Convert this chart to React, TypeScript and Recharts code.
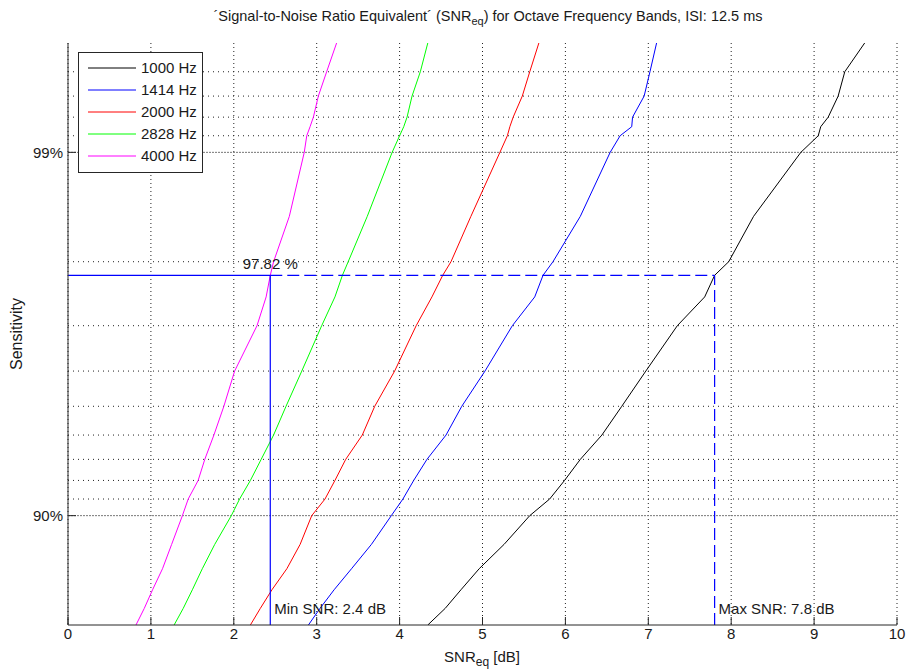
import React from "react";
import { LineChart, Line, XAxis, YAxis, CartesianGrid, ReferenceLine } from "recharts";

// sensitivity levels (%) where each curve was read
const sensitivity = [80, 82, 84, 86, 88, 90, 91, 92, 93, 94, 95, 96, 97, 97.5, 97.82, 98, 98.5, 99, 99.1, 99.15, 99.2, 99.3, 99.4, 99.5];

// SNR_eq [dB] of each band at those levels
const snr1000 = [4.34, 4.55, 4.74, 4.96, 5.26, 5.57, 5.81, 5.99, 6.18, 6.44, 6.68, 6.97, 7.35, 7.68, 7.8, 7.97, 8.27, 8.84, 9.05, 9.08, 9.17, 9.29, 9.37, 9.61];
const snr1414 = [2.9, 3.04, 3.21, 3.42, 3.66, 3.9, 4.04, 4.17, 4.33, 4.56, 4.75, 5.03, 5.36, 5.63, 5.73, 5.85, 6.18, 6.54, 6.66, 6.8, 6.81, 6.95, 7.02, 7.1];
const snr2000 = [2.2, 2.32, 2.46, 2.64, 2.8, 2.94, 3.1, 3.22, 3.35, 3.55, 3.7, 3.94, 4.2, 4.39, 4.52, 4.62, 4.86, 5.21, 5.3, 5.33, 5.37, 5.48, 5.57, 5.68];
const snr2828 = [1.28, 1.39, 1.5, 1.62, 1.77, 1.97, 2.07, 2.2, 2.33, 2.48, 2.63, 2.82, 3.06, 3.22, 3.31, 3.38, 3.61, 3.91, 4.0, 4.05, 4.09, 4.15, 4.25, 4.34];
const snr4000 = [0.82, 0.92, 1.02, 1.14, 1.25, 1.38, 1.45, 1.57, 1.65, 1.76, 1.88, 2.01, 2.28, 2.39, 2.44, 2.48, 2.67, 2.85, 2.88, 2.92, 2.96, 3.02, 3.12, 3.24];

const bandNames = ["1000 Hz", "1414 Hz", "2000 Hz", "2828 Hz", "4000 Hz"];
const bandColors = ["#000000", "#0000ff", "#ff0000", "#00ff00", "#ff00ff"];
const bandValues = [snr1000, snr1414, snr2000, snr2828, snr4000];

const xTicks = [0, 1, 2, 3, 4, 5, 6, 7, 8, 9, 10];
const yMin = 80;
const yMax = 99.5;
const majorLevels = [90, 99];
const minorLevels = [91, 92, 93, 94, 95, 96, 97, 98, 99.1, 99.2, 99.3, 99.4];

const target = 97.82;
const minSnr = 2.44;
const maxSnr = 7.8;

// probability axis: distance in decades from 100 %
const toZ = (p: number) => -Math.log10(1 - p / 100);

const series = bandNames.map((name, i) => ({
  name,
  color: bandColors[i],
  data: sensitivity.map((p, j) => ({ snr: bandValues[i][j], z: toZ(p) })),
}));

const FONT = "'Liberation Sans', Arial, Helvetica, sans-serif";
const TXT = "#1a1a1a";
const AXIS = "#262626";

const textLabel = (text: string, where: "bottomLeft" | "topEnd") => (props: any) => {
  const vb = props.viewBox || {};
  if (where === "bottomLeft") {
    return (
      <text x={vb.x + 4} y={vb.y + vb.height - 11} fontSize={15} fill={TXT} fontFamily={FONT}>
        {text}
      </text>
    );
  }
  return (
    <text x={vb.x + vb.width} y={vb.y - 6} fontSize={15} fill={TXT} textAnchor="middle" fontFamily={FONT}>
      {text}
    </text>
  );
};

function LegendBox() {
  return (
    <div
      style={{
        position: "absolute", left: 78, top: 52, width: 123, height: 115,
        border: `1px solid ${AXIS}`, background: "#fff", paddingTop: 4, boxSizing: "content-box",
      }}
    >
      {series.map((s) => (
        <div key={s.name} style={{ display: "flex", alignItems: "center", height: 22 }}>
          <svg width={62} height={22}>
            <line x1={9} x2={57} y1={11} y2={11} stroke={s.color} strokeWidth={1} />
          </svg>
          <span style={{ fontSize: 15, color: TXT, lineHeight: "22px" }}>{s.name}</span>
        </div>
      ))}
    </div>
  );
}

export default function App() {
  const zMin = toZ(yMin);
  const zMax = toZ(yMax);
  const zT = toZ(target);
  return (
    <div style={{ position: "absolute", left: 0, top: 0, width: 907, height: 670, background: "#fff", fontFamily: FONT }}>
      <div
        style={{
          position: "absolute", left: 488, top: 8, transform: "translateX(-50%)",
          whiteSpace: "nowrap", fontSize: 14.5, color: TXT,
        }}
      >
        ´Signal-to-Noise Ratio Equivalent´ (SNR<sub style={{ fontSize: 11 }}>eq</sub>) for Octave Frequency Bands, ISI: 12.5 ms
      </div>

      <LineChart width={907} height={670} margin={{ top: 43, right: 10, bottom: 15, left: 28 }}>
        <CartesianGrid horizontal={false} stroke="#222" strokeDasharray="1 3" xAxisId="bottom" />
        <XAxis
          xAxisId="bottom" type="number" dataKey="snr" domain={[0, 10]} ticks={xTicks} allowDataOverflow
          height={30} tickSize={-8} tickMargin={11} stroke={AXIS}
          tick={{ fontSize: 15, fill: TXT }}
        />
        <XAxis
          xAxisId="top" orientation="top" type="number" dataKey="snr" domain={[0, 10]} ticks={xTicks}
          allowDataOverflow height={0} tickSize={-8} stroke={AXIS} tickFormatter={() => ""}
        />
        <YAxis
          yAxisId="left" type="number" dataKey="z" domain={[zMin, zMax]} allowDataOverflow
          ticks={majorLevels.map(toZ)} tickFormatter={(v: number) => `${Math.round(100 - 100 * Math.pow(10, -v))}%`}
          width={40} tickSize={-8} tickMargin={13} stroke={AXIS} tick={{ fontSize: 15, fill: TXT }}
        />
        <YAxis
          yAxisId="right" orientation="right" type="number" dataKey="z" domain={[zMin, zMax]} allowDataOverflow
          ticks={majorLevels.map(toZ)} tickFormatter={() => ""} width={0} tickSize={-8} stroke={AXIS}
        />

        {minorLevels.map((p) => (
          <ReferenceLine key={`mi${p}`} xAxisId="bottom" yAxisId="left" y={toZ(p)} stroke="#222" strokeDasharray="1 4" />
        ))}
        {majorLevels.map((p) => (
          <ReferenceLine key={`ma${p}`} xAxisId="bottom" yAxisId="left" y={toZ(p)} stroke="#777" strokeDasharray="2 1" />
        ))}

        {series.map((s) => (
          <Line
            key={s.name} xAxisId="bottom" yAxisId="left" data={s.data} dataKey="z" name={s.name}
            type="linear" stroke={s.color} strokeWidth={1} dot={false} isAnimationActive={false}
          />
        ))}

        <ReferenceLine
          xAxisId="bottom" yAxisId="left" segment={[{ x: 0, y: zT }, { x: minSnr, y: zT }]}
          stroke="#0000ff" strokeWidth={1.2} label={textLabel("97.82 %", "topEnd")}
        />
        <ReferenceLine
          xAxisId="bottom" yAxisId="left" segment={[{ x: minSnr, y: zT }, { x: maxSnr, y: zT }]}
          stroke="#0000ff" strokeWidth={1.2} strokeDasharray="12 5"
        />
        <ReferenceLine
          xAxisId="bottom" yAxisId="left" segment={[{ x: minSnr, y: zMin }, { x: minSnr, y: zT }]}
          stroke="#0000ff" strokeWidth={1.2} label={textLabel("Min SNR: 2.4 dB", "bottomLeft")}
        />
        <ReferenceLine
          xAxisId="bottom" yAxisId="left" segment={[{ x: maxSnr, y: zMin }, { x: maxSnr, y: zT }]}
          stroke="#0000ff" strokeWidth={1.2} strokeDasharray="12 5" label={textLabel("Max SNR: 7.8 dB", "bottomLeft")}
        />
      </LineChart>

      <LegendBox />

      <div
        style={{
          position: "absolute", left: 482, top: 648, transform: "translateX(-50%)",
          whiteSpace: "nowrap", fontSize: 15, color: TXT,
        }}
      >
        SNR<sub style={{ fontSize: 12 }}>eq</sub> [dB]
      </div>
      <div
        style={{
          position: "absolute", left: 17, top: 334, transform: "translate(-50%, -50%) rotate(-90deg)",
          whiteSpace: "nowrap", fontSize: 16, color: TXT,
        }}
      >
        Sensitivity
      </div>
    </div>
  );
}
